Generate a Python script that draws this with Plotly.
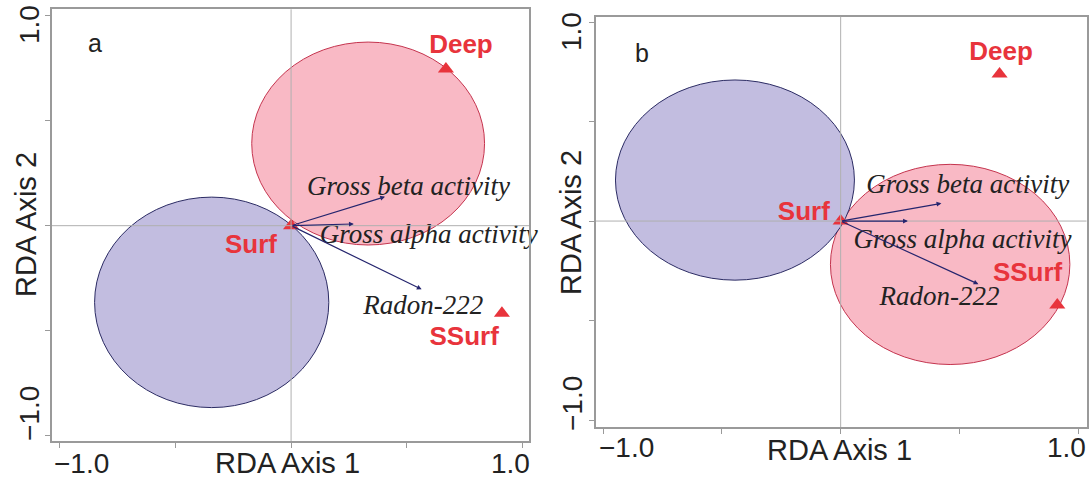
import plotly.graph_objects as go

# ---------------- data ----------------
panels = ["a", "b"]

# circles (centre x, centre y, radius x, radius y)
pink_circle = {"a": (0.333, 0.391, 0.503, 0.483), "b": (0.461, -0.218, 0.504, 0.503)}
blue_circle = {"a": (-0.343, -0.365, 0.506, 0.501), "b": (-0.445, 0.206, 0.503, 0.503)}

# sites (triangles)
site_names = ["Deep", "SSurf", "Surf"]
site_x = {"a": [0.669, 0.911, 0.0], "b": [0.669, 0.912, 0.0]}
site_y = {"a": [0.746, -0.417, 0.0], "b": [0.739, -0.422, 0.0]}
site_label_x = {"a": [0.734, 0.748, -0.173], "b": [0.675, 0.787, -0.155]}
site_label_y = {"a": [0.852, -0.535, -0.10], "b": [0.843, -0.268, 0.04]}

# environmental vectors
env_names = ["Gross beta activity", "Gross alpha activity", "Radon-222"]
env_x = {"a": [0.406, 0.271, 0.564], "b": [0.424, 0.283, 0.580]}
env_y = {"a": [0.138, 0.008, -0.303], "b": [0.089, 0.0, -0.317]}
env_label_x = {"a": [0.507, 0.595, 0.571], "b": [0.535, 0.513, 0.416]}
env_label_y = {"a": [0.178, -0.050, -0.386], "b": [0.175, -0.100, -0.390]}

panel_letter_xy = {"a": (-0.849, 0.869), "b": (-0.837, 0.843)}

tick_vals = [-1.0, -0.5, 0.0, 0.5, 1.0]
tick_text = ["\u22121.0", "", "", "", "1.0"]
x_title = "RDA Axis 1"
y_title = "RDA Axis 2"

# ---------------- styling ----------------
W, H = 1092, 480
RED = "#e8343c"
NAVY = "#25256e"
PINK_FILL = "#f9b9c5"
PINK_LINE = "#c4344e"
BLUE_FILL = "#c2bde0"
BLUE_LINE = "#2b2b63"
BOX = "#9a9a9a"
TXT = "#222222"
SANS = "Liberation Sans, Arial, sans-serif"
SERIF = "Liberation Serif, Times New Roman, serif"

# pixel boxes of the two plotting regions (left, right, top, bottom)
boxes = {"a": (52, 529, 9.3, 441), "b": (596, 1086.5, 16.7, 427)}
ranges = {"a": ([-1.033, 1.028], [-1.025, 1.030]),
          "b": ([-1.030, 1.035], [-1.035, 1.027])}
# placement (pixels) of the labelled ticks' texts, as in the original (shifted inward)
xlab_px = {"a": ([81.7, 510], 463), "b": ([626, 1066], 447.5)}
ylab_px = {"a": (29, [414, 25]), "b": (572, [404, 32])}
xtitle_px = {"a": (287.5, 463), "b": (839, 450)}
ytitle_px = {"a": (26, 225), "b": (571, 223)}

fig = go.Figure()
layout = dict(width=W, height=H, margin=dict(l=0, r=0, t=0, b=0, autoexpand=False),
              paper_bgcolor="white", plot_bgcolor="white", showlegend=False)
shapes, annotations = [], []


def px_x(v):
    return v / W


def px_y(v):
    return 1 - v / H


for i, p in enumerate(panels):
    sfx = "" if i == 0 else str(i + 1)
    xa, ya = "x" + sfx, "y" + sfx
    l, r, t, b = boxes[p]
    xr, yr = ranges[p]
    axis_common = dict(showgrid=False, zeroline=False, showline=True, mirror=True,
                       linecolor=BOX, linewidth=1.5, ticks="outside", ticklen=5,
                       tickcolor=BOX, tickwidth=1, tickvals=tick_vals, ticktext=tick_text,
                       showticklabels=False, fixedrange=True)
    layout["xaxis" + sfx] = dict(axis_common, domain=[l / W, r / W], range=xr, anchor=ya)
    layout["yaxis" + sfx] = dict(axis_common, domain=[1 - b / H, 1 - t / H], range=yr,
                                 anchor=xa)

    for (cx, cy, rx, ry), fill, line in [(pink_circle[p], PINK_FILL, PINK_LINE),
                                         (blue_circle[p], BLUE_FILL, BLUE_LINE)]:
        shapes.append(dict(type="circle", xref=xa, yref=ya, x0=cx - rx, x1=cx + rx,
                           y0=cy - ry, y1=cy + ry, fillcolor=fill,
                           line=dict(color=line, width=1), layer="below"))
    # cross hair lines through the origin
    shapes.append(dict(type="line", xref=xa, yref=ya + " domain", x0=0, x1=0, y0=0, y1=1,
                       line=dict(color="#b0b0b0", width=1)))
    shapes.append(dict(type="line", xref=xa + " domain", yref=ya, x0=0, x1=1, y0=0, y1=0,
                       line=dict(color="#b0b0b0", width=1)))

    # arrows
    for ex, ey in zip(env_x[p], env_y[p]):
        annotations.append(dict(x=ex, y=ey, ax=0, ay=0, xref=xa, yref=ya, axref=xa, ayref=ya,
                                showarrow=True, arrowhead=2, arrowsize=0.8, arrowwidth=1.2,
                                arrowcolor=NAVY, text="", standoff=0))
    # arrow labels
    fig.add_trace(go.Scatter(x=env_label_x[p], y=env_label_y[p], mode="text",
                             text=["<i>%s</i>" % s for s in env_names],
                             textfont=dict(family=SERIF, size=27, color=TXT),
                             textposition="middle center", xaxis=xa, yaxis=ya,
                             hoverinfo="skip", cliponaxis=False))
    # triangles
    fig.add_trace(go.Scatter(x=site_x[p], y=site_y[p], mode="markers",
                             marker=dict(symbol="triangle-up", size=14, color=RED),
                             xaxis=xa, yaxis=ya, hoverinfo="skip"))
    fig.add_trace(go.Scatter(x=site_label_x[p], y=site_label_y[p], mode="text",
                             text=["<b>%s</b>" % s for s in site_names],
                             textfont=dict(family=SANS, size=26, color=RED),
                             textposition="middle center", xaxis=xa, yaxis=ya,
                             hoverinfo="skip"))
    # panel letter
    lx, ly = panel_letter_xy[p]
    annotations.append(dict(x=lx, y=ly, xref=xa, yref=ya, text=p, showarrow=False,
                            font=dict(family=SANS, size=25, color=TXT)))

    # labels of the end ticks (-1.0 and 1.0)
    labelled = [(v, s) for v, s in zip(tick_vals, tick_text) if s]
    xs, xy = xlab_px[p]
    for (v, s), xpx in zip(labelled, xs):
        annotations.append(dict(x=px_x(xpx), y=px_y(xy), xref="paper", yref="paper",
                                text=s, showarrow=False,
                                font=dict(family=SANS, size=28, color=TXT),
                                xanchor="center", yanchor="middle", borderpad=0))
    yx, ys = ylab_px[p]
    for (v, s), ypx in zip(labelled, ys):
        annotations.append(dict(x=px_x(yx), y=px_y(ypx), xref="paper", yref="paper",
                                text=s, showarrow=False, textangle=-90,
                                font=dict(family=SANS, size=28, color=TXT),
                                xanchor="center", yanchor="middle", borderpad=0))
    # axis titles
    tx, ty = xtitle_px[p]
    annotations.append(dict(x=px_x(tx), y=px_y(ty), xref="paper", yref="paper",
                            text=x_title, showarrow=False, borderpad=0,
                            font=dict(family=SANS, size=29, color=TXT),
                            xanchor="center", yanchor="middle"))
    tx, ty = ytitle_px[p]
    annotations.append(dict(x=px_x(tx), y=px_y(ty), xref="paper", yref="paper",
                            text=y_title, showarrow=False, textangle=-90, borderpad=0,
                            font=dict(family=SANS, size=29, color=TXT),
                            xanchor="center", yanchor="middle"))

layout["shapes"] = shapes
layout["annotations"] = annotations
fig.update_layout(**layout)
fig.write_html("out.html")
